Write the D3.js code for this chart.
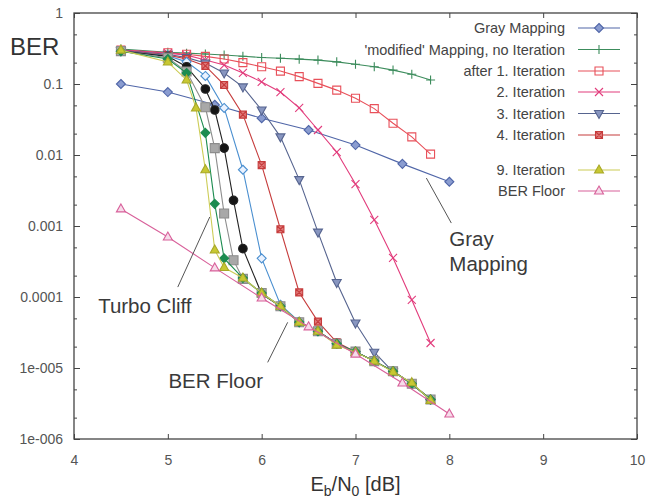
<!DOCTYPE html>
<html>
<head>
<meta charset="UTF-8">
<title>BER vs Eb/N0</title>
<script src="https://d3js.org/d3.v7.min.js"></script>
<style>
  body { margin: 0; background: #fff; }
  svg { display: block; font-family: "Liberation Sans", Arial, sans-serif; }
</style>
</head>
<body>
<svg width="647" height="500"></svg>
<script>
// ---- data ----
const xTicks = [4, 5, 6, 7, 8, 9, 10];
const yTicks = [1, 0.1, 0.01, 0.001, 0.0001, 1e-5, 1e-6];
const yTickLabels = ["1", "0.1", "0.01", "0.001", "0.0001", "1e-005", "1e-006"];

const xGray = [4.5, 5, 5.5, 6, 6.5, 7, 7.5, 8];
const berGray = [0.1, 0.077, 0.051, 0.033, 0.0225, 0.0138, 0.0075, 0.0042];

const xStep = [4.5, 5.0, 5.2, 5.4, 5.6, 5.8, 6.0, 6.2, 6.4, 6.6, 6.8, 7.0, 7.2, 7.4, 7.6, 7.8];
const berModified = [0.31, 0.28, 0.272, 0.265, 0.256, 0.246, 0.236, 0.23, 0.224, 0.217, 0.205, 0.19, 0.175, 0.157, 0.137, 0.114];
const berIter1 = [0.30, 0.276, 0.262, 0.245, 0.225, 0.2, 0.175, 0.152, 0.127, 0.102, 0.082, 0.063, 0.045, 0.028, 0.018, 0.0103];
const berIter2 = [0.30, 0.272, 0.255, 0.218, 0.185, 0.143, 0.107, 0.077, 0.046, 0.0225, 0.011, 0.0039, 0.00122, 0.000355, 9.1e-5, 2.25e-5];

const xIter3 = [4.5, 5.0, 5.2, 5.4, 5.6, 5.8, 6.0, 6.2, 6.4, 6.6, 6.8, 7.0, 7.2, 7.4];
const berIter3 = [0.295, 0.262, 0.235, 0.198, 0.143, 0.091, 0.043, 0.018, 0.0045, 8.2e-4, 1.6e-4, 4.3e-5, 1.67e-5, 8.8e-6];

const berIter4 = [0.29, 0.255, 0.225, 0.18, 0.097, 0.037, 0.0072, 9.0e-4, 1.16e-4, 4.5e-5, 2.3e-5, 1.7e-5, 1.25e-5, 9e-6, 6e-6, 3.6e-6];
const berIter5 = [0.29, 0.25, 0.205, 0.13, 0.046, 0.0062, 3.5e-4, 7.8e-5, 4.5e-5, 3.3e-5, 2.2e-5, 1.7e-5, 1.25e-5, 9e-6, 6e-6, 3.6e-6];

const xFine = [4.5, 5.0, 5.2, 5.4, 5.5, 5.6, 5.7, 5.8, 6.0, 6.2, 6.4, 6.6, 6.8, 7.0, 7.2, 7.4, 7.6, 7.8];
const berIter6 = [0.29, 0.245, 0.175, 0.085, 0.043, 0.0125, 2.3e-3, 4.8e-4, 1.1e-4, 7.4e-5, 4.4e-5, 3.3e-5, 2.2e-5, 1.7e-5, 1.25e-5, 9e-6, 6e-6, 3.6e-6];
const berIter7 = [0.29, 0.235, 0.15, 0.047, 0.0125, 1.5e-3, 3.3e-4, 1.8e-4, 1.14e-4, 7.4e-5, 4.4e-5, 3.3e-5, 2.2e-5, 1.7e-5, 1.25e-5, 9e-6, 6e-6, 3.6e-6];

const xIter8 = [4.5, 5.0, 5.2, 5.4, 5.5, 5.6, 5.8, 6.0, 6.2, 6.4, 6.6, 6.8, 7.0, 7.2, 7.4, 7.6, 7.8];
const berIter8 = [0.29, 0.225, 0.143, 0.0205, 2.05e-3, 3.5e-4, 1.85e-4, 1.14e-4, 7.4e-5, 4.4e-5, 3.3e-5, 2.2e-5, 1.7e-5, 1.25e-5, 9e-6, 6e-6, 3.6e-6];

const xIter9 = [4.5, 5.0, 5.2, 5.3, 5.4, 5.5, 5.6, 5.8, 6.0, 6.2, 6.4, 6.6, 6.8, 7.0, 7.2, 7.4, 7.6, 7.8];
const berIter9 = [0.30, 0.204, 0.114, 0.046, 0.0062, 4.6e-4, 2.6e-4, 1.85e-4, 1.14e-4, 7.4e-5, 4.4e-5, 3.3e-5, 2.1e-5, 1.66e-5, 1.25e-5, 8.8e-6, 6.2e-6, 3.5e-6];

const xFloor = [4.5, 5, 5.5, 6, 6.5, 7, 7.5, 8];
const berFloor = [1.74e-3, 7.0e-4, 2.57e-4, 9.7e-5, 3.8e-5, 1.57e-5, 6.15e-6, 2.25e-6];

// series table, in gnuplot drawing order
const series = [
  { name: "Gray Mapping", xs: xGray, ys: berGray, color: "#5066a8", marker: "diamond", fill: "#8a9cd0", legend: 0 },
  { name: "'modified' Mapping, no Iteration", xs: xStep, ys: berModified, color: "#3c8c5c", marker: "plus", legend: 1 },
  { name: "after 1. Iteration", xs: xStep, ys: berIter1, color: "#e8505a", marker: "square", fill: "none", legend: 2 },
  { name: "2. Iteration", xs: xStep, ys: berIter2, color: "#e23c7c", marker: "times", legend: 3 },
  { name: "3. Iteration", xs: xIter3, ys: berIter3, color: "#56648f", marker: "triDown", fill: "#8896c0", legend: 4 },
  { name: "4. Iteration", xs: xStep, ys: berIter4, color: "#c63c3c", marker: "boxTimes", fill: "#e07a7a", legend: 5 },
  { name: "5. Iteration", xs: xStep, ys: berIter5, color: "#4a8fd0", marker: "diamond", fill: "#eaf2ff" },
  { name: "6. Iteration", xs: xFine, ys: berIter6, color: "#222222", marker: "circle", fill: "#151515" },
  { name: "7. Iteration", xs: xFine, ys: berIter7, color: "#8c8c8c", marker: "squareBig", fill: "#a8a8a8" },
  { name: "8. Iteration", xs: xIter8, ys: berIter8, color: "#1c8c50", marker: "diamond", fill: "#1c8c50" },
  { name: "9. Iteration", xs: xIter9, ys: berIter9, color: "#cccc55", marker: "triUp", fill: "#c8c832", stroke: "#a8a828", legend: 6 },
  { name: "BER Floor", xs: xFloor, ys: berFloor, color: "#d8609a", marker: "triUp", fill: "#f6dcea", legend: 7 }
];

// annotations in data coordinates
const notes = [
  { lines: ["Turbo Cliff"], x: 4.755, y: 6.0e-5, from: [5.106, 1.38e-4], to: [5.447, 1.34e-3], anchor: "middle" },
  { lines: ["BER Floor"], x: 5.51, y: 5.2e-6, from: [6.064, 1.2e-5], to: [6.277, 4.4e-5], anchor: "middle" },
  { lines: ["Gray", "Mapping"], x: 8.0, y: 5.2e-4, from: [8.021, 1.1e-3], to: [7.755, 4.74e-3], anchor: "start" }
];

// ---- chart ----
const svg = d3.select("svg");
const x = d3.scaleLinear().domain([4, 10]).range([74, 637]);
const y = d3.scaleLog().domain([1e-6, 1]).range([439, 13]);

const axisColor = "#444";
const labelColor = "#555";

const minorTicks = [];
for (let k = 1; k <= 6; k++) {
  minorTicks.push(2 * Math.pow(10, -k), 5 * Math.pow(10, -k));
}

function styleAxis(g) {
  g.select(".domain").remove();
  g.selectAll(".tick line").attr("stroke", axisColor).attr("stroke-width", 1);
  g.selectAll(".tick text").attr("fill", labelColor).attr("font-size", 14)
    .attr("font-family", "Liberation Sans, Arial, sans-serif");
}

svg.append("g").attr("transform", `translate(0,${y(1e-6)})`)
  .call(d3.axisBottom(x).tickValues(xTicks).tickFormat(d3.format("d"))
    .tickSizeInner(-5).tickSizeOuter(0).tickPadding(16))
  .call(styleAxis);
svg.append("g").attr("transform", `translate(0,${y(1)})`)
  .call(d3.axisTop(x).tickValues(xTicks).tickFormat("").tickSizeInner(-5).tickSizeOuter(0))
  .call(styleAxis);
svg.append("g").attr("transform", `translate(${x(4)},0)`)
  .call(d3.axisLeft(y).tickValues(yTicks).tickFormat((d, i) => yTickLabels[i])
    .tickSizeInner(-6).tickSizeOuter(0).tickPadding(11))
  .call(styleAxis);
svg.append("g").attr("transform", `translate(${x(4)},0)`)
  .call(d3.axisLeft(y).tickValues(minorTicks).tickFormat("").tickSizeInner(-3).tickSizeOuter(0))
  .call(styleAxis);
svg.append("g").attr("transform", `translate(${x(10)},0)`)
  .call(d3.axisRight(y).tickValues(yTicks).tickFormat("").tickSizeInner(-6).tickSizeOuter(0))
  .call(styleAxis);
svg.append("g").attr("transform", `translate(${x(10)},0)`)
  .call(d3.axisRight(y).tickValues(minorTicks).tickFormat("").tickSizeInner(-3).tickSizeOuter(0))
  .call(styleAxis);

svg.append("rect")
  .attr("x", x(4)).attr("y", y(1))
  .attr("width", x(10) - x(4)).attr("height", y(1e-6) - y(1))
  .attr("fill", "none").attr("stroke", axisColor).attr("stroke-width", 1.3);

// marker shapes
function markerPath(type) {
  const p = d3.path();
  if (type === "diamond") { const r = 4.5; p.moveTo(0, -r); p.lineTo(r, 0); p.lineTo(0, r); p.lineTo(-r, 0); p.closePath(); }
  else if (type === "square") { const r = 4; p.rect(-r, -r, 2 * r, 2 * r); }
  else if (type === "squareBig") { const r = 4.5; p.rect(-r, -r, 2 * r, 2 * r); }
  else if (type === "plus") { const r = 4.5; p.moveTo(-r, 0); p.lineTo(r, 0); p.moveTo(0, -r); p.lineTo(0, r); }
  else if (type === "times") { const r = 4; p.moveTo(-r, -r); p.lineTo(r, r); p.moveTo(-r, r); p.lineTo(r, -r); }
  else if (type === "boxTimes") { const r = 3.5; p.rect(-r, -r, 2 * r, 2 * r); p.moveTo(-r, -r); p.lineTo(r, r); p.moveTo(-r, r); p.lineTo(r, -r); }
  else if (type === "triUp") { const r = 5; p.moveTo(0, -r); p.lineTo(r * 0.9, r * 0.6); p.lineTo(-r * 0.9, r * 0.6); p.closePath(); }
  else if (type === "triDown") { const r = 5; p.moveTo(0, r); p.lineTo(r * 0.9, -r * 0.6); p.lineTo(-r * 0.9, -r * 0.6); p.closePath(); }
  else if (type === "circle") { p.arc(0, 0, 4.3, 0, 2 * Math.PI); }
  return p.toString();
}

const line = d3.line().x(d => x(d[0])).y(d => y(d[1]));

series.forEach(s => {
  const pts = s.xs.map((v, i) => [v, s.ys[i]]);
  const g = svg.append("g");
  g.append("path").datum(pts)
    .attr("d", line)
    .attr("fill", "none")
    .attr("stroke", s.color)
    .attr("stroke-width", 1.1);
  g.selectAll("path.pt").data(pts).enter().append("path")
    .attr("class", "pt")
    .attr("transform", d => `translate(${x(d[0])},${y(d[1])})`)
    .attr("d", markerPath(s.marker))
    .attr("fill", s.fill || "none")
    .attr("stroke", s.stroke || s.color)
    .attr("stroke-width", 1.1);
});

// legend
const legendRowY = [28, 49.5, 71, 92, 113.5, 135, 170, 191];
const legend = svg.append("g");
series.filter(s => s.legend !== undefined).forEach(s => {
  const ly = legendRowY[s.legend];
  legend.append("text")
    .attr("x", 565).attr("y", ly).attr("dy", "0.35em")
    .attr("text-anchor", "end")
    .attr("font-size", 14.5)
    .attr("fill", "#444")
    .text(s.name);
  legend.append("line")
    .attr("x1", 578).attr("x2", 620).attr("y1", ly).attr("y2", ly)
    .attr("stroke", s.color).attr("stroke-width", 1.1);
  legend.append("path")
    .attr("transform", `translate(599,${ly})`)
    .attr("d", markerPath(s.marker))
    .attr("fill", s.fill || "none")
    .attr("stroke", s.stroke || s.color)
    .attr("stroke-width", 1.1);
});

// annotations
notes.forEach(n => {
  svg.append("line")
    .attr("x1", x(n.from[0])).attr("y1", y(n.from[1]))
    .attr("x2", x(n.to[0])).attr("y2", y(n.to[1]))
    .attr("stroke", "#555").attr("stroke-width", 1);
  const t = svg.append("text")
    .attr("x", x(n.x)).attr("y", y(n.y))
    .attr("text-anchor", n.anchor)
    .attr("font-size", 20.5)
    .attr("fill", "#3a3a3a");
  n.lines.forEach((l, i) => {
    t.append("tspan").attr("x", x(n.x)).attr("dy", i === 0 ? 0 : 25).text(l);
  });
});

// axis titles
svg.append("text")
  .attr("x", 10).attr("y", 55)
  .attr("font-size", 24)
  .attr("fill", "#333")
  .text("BER");

const xl = svg.append("text")
  .attr("x", (x(4) + x(10)) / 2).attr("y", 491)
  .attr("text-anchor", "middle")
  .attr("font-size", 20)
  .attr("fill", "#333");
xl.append("tspan").text("E");
xl.append("tspan").attr("font-size", 14).attr("dy", 5).text("b");
xl.append("tspan").attr("dy", -5).text("/N");
xl.append("tspan").attr("font-size", 14).attr("dy", 5).text("0");
xl.append("tspan").attr("dy", -5).text(" [dB]");
</script>
</body>
</html>
